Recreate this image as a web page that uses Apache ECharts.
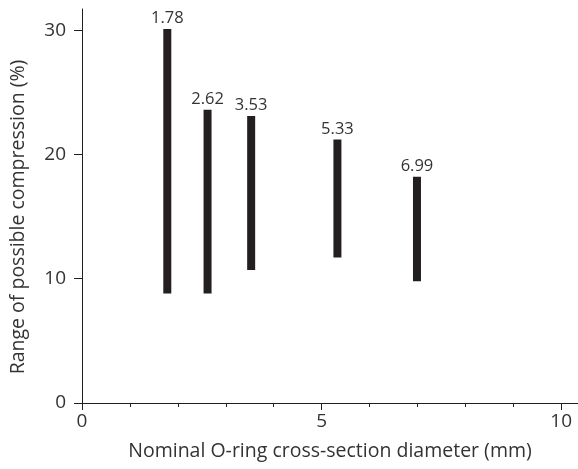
<!DOCTYPE html>
<html>
<head>
<meta charset="utf-8">
<script src="https://cdn.jsdelivr.net/npm/echarts@6/dist/echarts.min.js"></script>
<style>html,body{margin:0;padding:0;background:#fff}#c{width:578px;height:469px}</style>
</head>
<body>
<div id="c"></div>
<script>
var diameters = [1.78, 2.62, 3.53, 5.33, 6.99];
var lowValues = [8.8, 8.8, 10.7, 11.7, 9.8];
var highValues = [30.1, 23.6, 23.1, 21.2, 18.2];
var xTickLabels = [0, 5, 10];
var xMinorTicks = [1, 2, 3, 4, 6, 7, 8, 9];
var yTickLabels = [0, 10, 20, 30];

var FONT = 'Open Sans';
var INK = '#231f20';
var TXT = '#333';

var chart = echarts.init(document.getElementById('c'), null, {renderer: 'canvas'});
var data = diameters.map(function (d, i) { return [d, lowValues[i], highValues[i]]; });

chart.setOption({
  animation: false,
  grid: {left: 80, right: 0, top: 9, bottom: 66, containLabel: false},
  xAxis: [{
    type: 'value', min: 0, max: 10.35,
    axisLine: {show: true, lineStyle: {color: INK, width: 1}},
    axisTick: {show: true, customValues: xTickLabels, length: 7, lineStyle: {color: INK}},
    axisLabel: {customValues: xTickLabels, color: TXT, fontFamily: FONT, fontSize: 19, margin: 9},
    splitLine: {show: false},
    name: 'Nominal O-ring cross-section diameter (mm)',
    nameLocation: 'middle', nameGap: 38,
    nameTextStyle: {color: TXT, fontFamily: FONT, fontSize: 19.5}
  }, {
    type: 'value', min: 0, max: 10.35, position: 'bottom', gridIndex: 0,
    axisLine: {show: false},
    axisTick: {show: true, customValues: xMinorTicks, length: 4, lineStyle: {color: INK}},
    axisLabel: {show: false},
    splitLine: {show: false}
  }],
  yAxis: {
    type: 'value', min: 0, max: 31.7,
    axisLine: {show: true, lineStyle: {color: INK, width: 1}},
    axisTick: {show: true, customValues: yTickLabels, length: 8, lineStyle: {color: INK}},
    axisLabel: {customValues: yTickLabels, color: TXT, fontFamily: FONT, fontSize: 19, margin: 16},
    splitLine: {show: false},
    name: 'Range of possible compression (%)',
    nameLocation: 'middle', nameGap: 54, nameRotate: 90,
    nameTextStyle: {color: TXT, fontFamily: FONT, fontSize: 19.5, padding: [0, 22, 0, 0]}
  },
  series: [{
    type: 'custom',
    xAxisIndex: 0,
    data: data,
    encode: {x: 0, y: [1, 2]},
    renderItem: function (params, api) {
      var x = api.value(0), lo = api.value(1), hi = api.value(2);
      var p1 = api.coord([x, hi]);
      var p0 = api.coord([x, lo]);
      var w = 8;
      return {
        type: 'group',
        children: [{
          type: 'rect',
          shape: {x: p1[0] - w / 2, y: p1[1], width: w, height: p0[1] - p1[1]},
          style: {fill: INK}
        }, {
          type: 'text',
          x: p1[0], y: p1[1] - 2,
          style: {text: x.toFixed(2), fill: TXT, font: '16.5px "' + FONT + '"', align: 'center', verticalAlign: 'bottom'}
        }]
      };
    }
  }]
});
</script>
</body>
</html>
